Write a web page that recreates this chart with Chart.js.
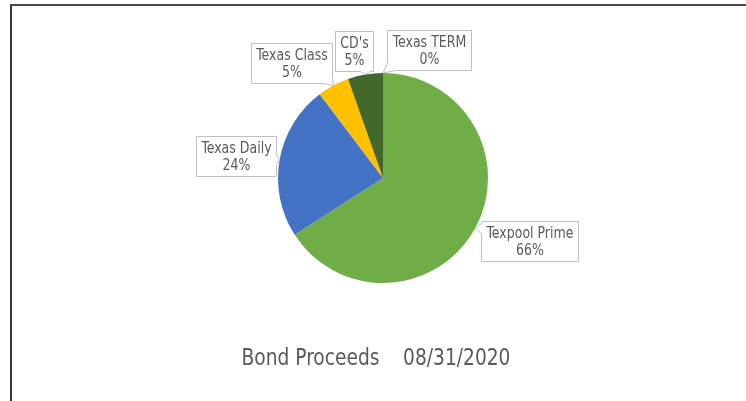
<!DOCTYPE html>
<html>
<head>
<meta charset="utf-8">
<script src="https://cdn.jsdelivr.net/npm/chart.js@4"></script>
<style>
  html, body { margin: 0; padding: 0; background: #fff; overflow: hidden; }
  #wrap { position: relative; width: 746px; height: 401px; }
  #frame { position: absolute; left: 10px; top: 4px; width: 800px; height: 500px;
           border-top: 2px solid #4a4a4a; border-left: 2px solid #333; box-sizing: border-box; }
  canvas { position: absolute; left: 0; top: 0; }
</style>
</head>
<body>
<div id="wrap">
  <div id="frame"></div>
  <canvas id="c" width="746" height="401"></canvas>
</div>
<script>
// ---- data ----
const categories = ["Texpool Prime", "Texas Daily", "Texas Class", "CD's", "Texas TERM"];
const values = [65.9, 23.8, 4.9, 5.4, 0.0];
const colors = ["#70AD47", "#4472C4", "#FFC000", "#43682B", "#A5A5A5"];
const chartTitle = "Bond Proceeds    08/31/2020";

const FONT = "'DejaVu Sans Condensed', 'Liberation Sans Narrow', 'Liberation Sans', sans-serif";
const TEXT_COLOR = "#595959";

function drawSquished(ctx, text, x, y, sx) {
  ctx.save();
  ctx.translate(x, y);
  ctx.scale(sx, 1);
  ctx.fillText(text, 0, 0);
  ctx.restore();
}

const calloutPlugin = {
  id: 'callouts',
  afterDatasetsDraw(chart, args, opts) {
    const ctx = chart.ctx;
    const meta = chart.getDatasetMeta(0);
    const data = chart.data.datasets[0].data;
    const total = data.reduce((a, b) => a + b, 0);
    ctx.save();
    ctx.font = opts.fontSize + "px " + FONT;
    meta.data.forEach((arc, i) => {
      const p = arc.getProps(['x', 'y', 'startAngle', 'endAngle', 'outerRadius'], true);
      const mid = (p.startAngle + p.endAngle) / 2;
      const tx = p.x + Math.cos(mid) * p.outerRadius;
      const ty = p.y + Math.sin(mid) * p.outerRadius;
      const off = opts.offsets[i];
      const cx = tx + off[0], cy = ty + off[1];
      const l1 = chart.data.labels[i];
      const l2 = Math.round(data[i] / total * 100) + "%";
      const w = Math.max(ctx.measureText(l1).width, ctx.measureText(l2).width) * opts.hscale + opts.padX * 2;
      const h = opts.lineHeight * 2 + opts.padY * 2;
      const L = Math.round(cx - w / 2) + 0.5, R = Math.round(cx + w / 2) + 0.5;
      const T = Math.round(cy - h / 2) + 0.5, B = Math.round(cy + h / 2) + 0.5;
      const hx = tx < L ? -1 : (tx > R ? 1 : 0);
      const vy = ty < T ? -1 : (ty > B ? 1 : 0);
      const c = 8, s = 5;
      const pts = [];
      if (hx === -1 && vy === -1) { pts.push([L, T + c], [tx, ty], [L + c, T]); } else pts.push([L, T]);
      if (vy === -1 && hx === 0) { const px = Math.min(Math.max(tx, L + s + 2), R - s - 2); pts.push([px - s, T], [tx, ty], [px + s, T]); }
      if (hx === 1 && vy === -1) { pts.push([R - c, T], [tx, ty], [R, T + c]); } else pts.push([R, T]);
      if (hx === 1 && vy === 0) { const py = Math.min(Math.max(ty, T + s + 2), B - s - 2); pts.push([R, py - s], [tx, ty], [R, py + s]); }
      if (hx === 1 && vy === 1) { pts.push([R, B - c], [tx, ty], [R - c, B]); } else pts.push([R, B]);
      if (vy === 1 && hx === 0) { const px = Math.min(Math.max(tx, L + s + 2), R - s - 2); pts.push([px + s, B], [tx, ty], [px - s, B]); }
      if (hx === -1 && vy === 1) { pts.push([L + c, B], [tx, ty], [L, B - c]); } else pts.push([L, B]);
      if (hx === -1 && vy === 0) { const py = Math.min(Math.max(ty, T + s + 2), B - s - 2); pts.push([L, py + s], [tx, ty], [L, py - s]); }
      ctx.beginPath();
      pts.forEach((q, k) => k ? ctx.lineTo(q[0], q[1]) : ctx.moveTo(q[0], q[1]));
      ctx.closePath();
      ctx.fillStyle = "#ffffff";
      ctx.fill();
      ctx.strokeStyle = "#bfbfbf";
      ctx.lineWidth = 1;
      ctx.stroke();
      ctx.fillStyle = TEXT_COLOR;
      ctx.textAlign = "center";
      ctx.textBaseline = "middle";
      const mx = (L + R) / 2;
      drawSquished(ctx, l1, mx, T + opts.padY + opts.lineHeight / 2 + 1, opts.hscale);
      drawSquished(ctx, l2, mx, T + opts.padY + opts.lineHeight * 1.5 + 1, opts.hscale);
    });
    ctx.restore();
  },
  afterDraw(chart, args, opts) {
    const ctx = chart.ctx;
    ctx.save();
    ctx.font = opts.titleSize + "px " + FONT;
    ctx.fillStyle = TEXT_COLOR;
    ctx.textAlign = "center";
    ctx.textBaseline = "alphabetic";
    drawSquished(ctx, chartTitle, opts.titleX, opts.titleY, opts.titleHscale);
    ctx.restore();
  }
};

new Chart(document.getElementById('c'), {
  type: 'pie',
  data: {
    labels: categories,
    datasets: [{
      data: values,
      backgroundColor: colors,
      borderWidth: 0,
      hoverOffset: 0,
      offset: 0
    }]
  },
  options: {
    responsive: false,
    animation: false,
    events: [],
    layout: { padding: { left: 278, right: 258, top: 73, bottom: 118 } },
    plugins: {
      legend: { display: false },
      tooltip: { enabled: false },
      title: { display: false },
      callouts: {
        fontSize: 15.5,
        hscale: 0.9,
        lineHeight: 17,
        padX: 5,
        padY: 3,
        offsets: [[54, 13], [-44, -4], [-42, -23], [-11, -24], [46, -23]],
        titleSize: 23,
        titleHscale: 0.9,
        titleX: 376,
        titleY: 365
      }
    }
  },
  plugins: [calloutPlugin]
});
</script>
</body>
</html>
